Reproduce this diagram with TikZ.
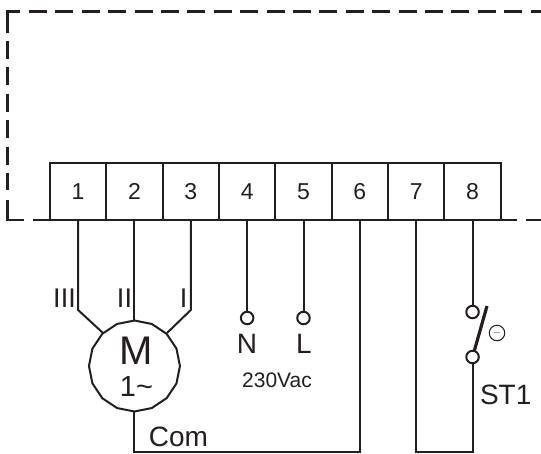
\documentclass[tikz,border=0pt]{standalone}
\usepackage{fontspec}
\setmainfont{Liberation Sans}
\usetikzlibrary{shapes.geometric}
\definecolor{ink}{HTML}{231F20}
\tikzset{
  x=1pt,y=-1pt,
  every node/.style={text=ink,inner sep=0pt,outer sep=0pt},
  wire/.style={draw=ink,line width=2pt},
  dashline/.style={draw=ink,line width=2.2pt,dash pattern=on 18pt off 8.4pt},
  solidedge/.style={draw=ink,line width=2.2pt},
  terminal/.style={draw=ink,line width=2pt,minimum width=56.35pt,minimum height=57pt,font=\fontsize{23}{23}\selectfont},
  lamp/.style={circle,draw=ink,line width=2pt,minimum size=12.5pt,fill=white},
  big/.style={font=\fontsize{28}{28}\selectfont},
}
\begin{document}
\begin{tikzpicture}
\useasboundingbox (0,0) rectangle (541,453);
% dashed enclosure
\coordinate (dA) at (7.5,220);
\coordinate (dB) at (7.5,11.5);
\coordinate (dC) at (541,11.5);
\coordinate (dD) at (501,220);
\coordinate (dE) at (541,220);
\draw[solidedge] (7.5,32.5) -- (dB) -- (20,11.5);
\draw[dashline] (29,11.5) -- (dC);
\draw[dashline] (7.5,41) -- (7.5,190);
\draw[solidedge] (7.5,199.5) -- (dA) -- (24,220) (33,220) -- (50,220);
\draw[solidedge] (dD) -- (517,220) (526,220) -- (dE);
% terminals
\foreach \n/\cx in {1/78.1,2/134.45,3/190.8,4/247.15,5/303.5,6/359.85,7/416.2,8/472.55}{
  \node[terminal] (t\n) at (\cx,191.5) {\n};
}
% motor
\node[regular polygon,regular polygon sides=16,shape border rotate=11.25,draw=ink,line width=2pt,minimum size=91pt] (m) at (134.45,366) {};
\node[font=\fontsize{40}{40}\selectfont] (mM) at (136,351) {M};
\node[font=\fontsize{29}{29}\selectfont] (mN) at (136.5,387) {1\char`~};
\coordinate (b1) at (78.1,310);
\coordinate (b3) at (190.8,310);
\coordinate (c1) at (103,333);
\coordinate (c3) at (167,333);
\coordinate (bl) at (134.45,451.5);
\coordinate (br) at (359.85,451.5);
\draw[wire] (t1.south) -- (b1) -- (c1);
\draw[wire] (t3.south) -- (b3) -- (c3);
\draw[wire] (t2.south) -- (m.90);
\draw[wire] (m.270) -- (bl) -- (br) -- (t6.south);
\node[font=\fontsize{27}{27}\selectfont] (l3) at (64.5,298) {III};
\node[font=\fontsize{27}{27}\selectfont] (l2) at (124.5,298) {II};
\node[font=\fontsize{27}{27}\selectfont] (l1) at (183.5,298) {I};
\node[big] (com) at (178.5,437) {Com};
% supply
\node[lamp] (n) at (247.15,318) {};
\node[lamp] (l) at (303.5,318) {};
\draw[wire] (t4.south) -- (n);
\draw[wire] (t5.south) -- (l);
\node[big] (nt) at (247,343.5) {N};
\node[big] (lt) at (304,343.5) {L};
\node[font=\fontsize{21}{21}\selectfont] (v) at (277,380.5) {230Vac};
% switch
\node[lamp] (s1) at (472.55,312) {};
\node[lamp] (s2) at (472.55,357) {};
\coordinate (bt) at (487,306);
\coordinate (k7) at (416.2,451.5);
\coordinate (k8) at (472.55,451.5);
\draw[wire] (t8.south) -- (s1);
\draw[wire] (s2) -- (k8) -- (k7) -- (t7.south);
\draw[draw=ink,line width=3.2pt] (s2) -- (bt);
\node[circle,draw=ink,line width=1pt,minimum size=15.5pt,font=\fontsize{11}{11}\selectfont] (neg) at (497,333) {$-$};
\node[big] (st) at (505.7,394.5) {ST1};
\end{tikzpicture}
\end{document}
